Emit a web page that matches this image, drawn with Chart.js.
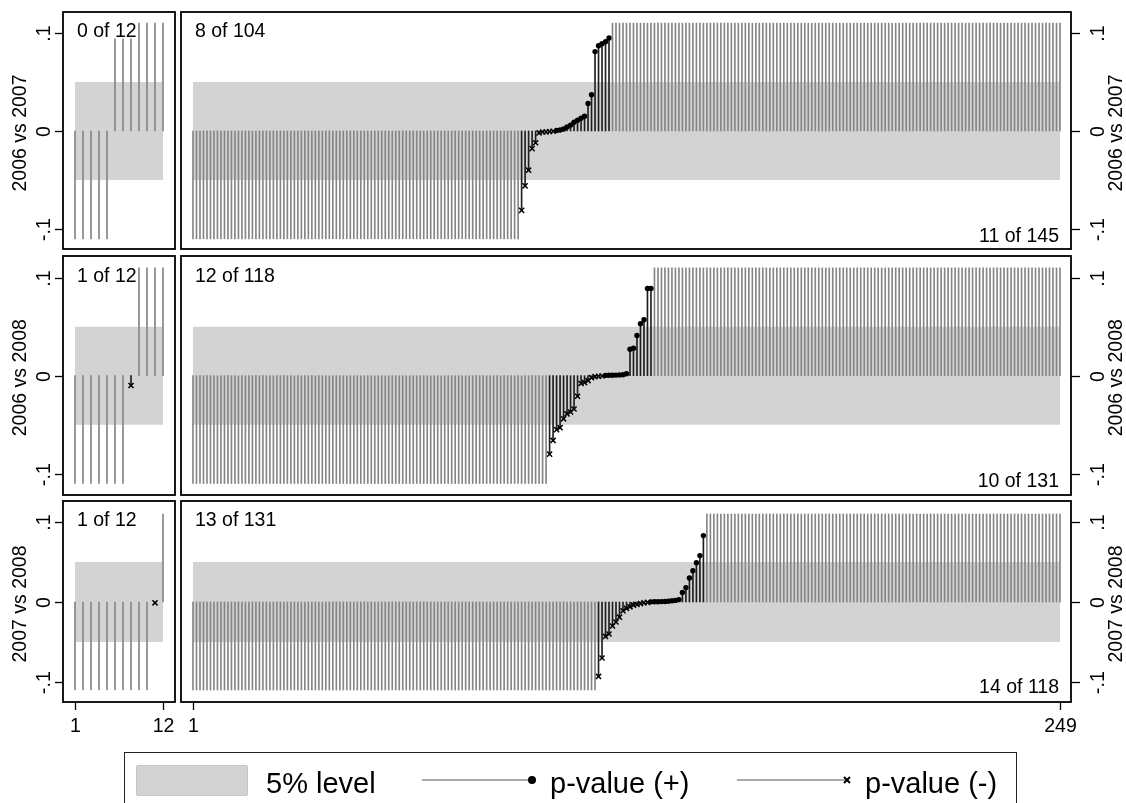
<!DOCTYPE html>
<html>
<head>
<meta charset="utf-8">
<script src="https://cdn.jsdelivr.net/npm/chart.js@4.4.1/dist/chart.umd.min.js"></script>
<style>
  html, body { margin: 0; padding: 0; background: #fff; }
  #wrap { position: relative; width: 1126px; height: 803px; overflow: hidden;
          font-family: "Liberation Sans", Arial, Helvetica, sans-serif; color: #000; }
  #wrap canvas { position: absolute; left: 0; top: 0; }
  #legend { position: absolute; left: 124px; top: 752px; width: 893px; height: 70px;
            border: 1px solid #222; box-sizing: border-box; }
  .lg { position: absolute; font-size: 29px; line-height: 29px; white-space: nowrap; }
  #swatch { position: absolute; left: 136px; top: 765px; width: 112px; height: 31px;
            background: #d3d3d3; border: 1px solid #c6c6c6; box-sizing: border-box; border-radius: 2px; }
  .lgsvg { position: absolute; }
</style>
</head>
<body>
<div id="wrap">
  <canvas id="p11" width="1126" height="803"></canvas>
  <canvas id="p12" width="1126" height="803"></canvas>
  <canvas id="p21" width="1126" height="803"></canvas>
  <canvas id="p22" width="1126" height="803"></canvas>
  <canvas id="p31" width="1126" height="803"></canvas>
  <canvas id="p32" width="1126" height="803"></canvas>

  <div id="legend"></div>
  <div id="swatch"></div>
  <div class="lg" style="left:266px;top:769px;">5% level</div>
  <svg class="lgsvg" style="left:418px;top:772px;" width="122" height="16">
    <line x1="4" y1="8" x2="114" y2="8" stroke="#555" stroke-width="1.2"/>
    <circle cx="114" cy="8" r="4" fill="#000"/>
  </svg>
  <div class="lg" style="left:550px;top:769px;">p-value (+)</div>
  <svg class="lgsvg" style="left:733px;top:772px;" width="122" height="16">
    <line x1="4" y1="8" x2="114" y2="8" stroke="#555" stroke-width="1.2"/>
    <path d="M111 5 L117 11 M117 5 L111 11" stroke="#000" stroke-width="2"/>
  </svg>
  <div class="lg" style="left:865px;top:769px;">p-value (-)</div>
</div>

<script>
// ---- data ----
const CLIP = 0.11;                       // spikes beyond the plotted range
const Y_TICKS = [-0.1, 0, 0.1];
const Y_TICK_LABELS = ['-.1', '0', '.1'];
const BAND = [-0.05, 0.05];              // 5% level
const ROW_TITLES = ['2006 vs 2007', '2006 vs 2008', '2007 vs 2008'];

// left column: 12 regressions
const LEFT_N = 12;
const LEFT_X_TICKS = [1, 12];
const left1Grey = [-.11, -.11, -.11, -.11, -.11, .094, .094, .094, .11, .11, .11, .11];
const left1Mark = [null, null, null, null, null, null, null, null, null, null, null, null];
const left2Grey = [-.11, -.11, -.11, -.11, -.11, -.11, -.11, null, .11, .11, .11, .11];
const left2Mark = [null, null, null, null, null, null, null, -.01, null, null, null, null];
const left3Grey = [-.11, -.11, -.11, -.11, -.11, -.11, -.11, -.11, -.11, -.11, null, .11];
const left3Mark = [null, null, null, null, null, null, null, null, null, null, -.001, null];

const RIGHT_N = 249;
const RIGHT_X_TICKS = [1, 249];
const right1NegClip = 94;
const right1Mark = [-.081, -.056, -.040, -.018, -.012, -.002, -.001, -.001, -.0005, -.0003,
                    .0005, .001, .002, .004, .006, .009, .011, .013, .015, .028, .037,
                    .081, .087, .089, .091, .095];
const right1PosClip = 129;

const right2NegClip = 102;
const right2Mark = [-.080, -.066, -.055, -.053, -.044, -.039, -.037, -.034, -.021, -.008,
                    -.007, -.005, -.002, -.001, -.0006, -.0003,
                    .0003, .0004, .0005, .0006, .0008, .001, .002, .027, .028, .041,
                    .053, .057, .089, .089];
const right2PosClip = 117;

const right3NegClip = 116;
const right3Mark = [-.093, -.070, -.043, -.040, -.030, -.025, -.019, -.011, -.008, -.006,
                    -.004, -.003, -.002, -.001, -.0005,
                    .0002, .0003, .0004, .0005, .0007, .001, .0015, .002, .003, .012,
                    .018, .030, .039, .049, .058, .083];
const right3PosClip = 102;

const TOP_LABELS = [['0 of 12', '8 of 104'], ['1 of 12', '12 of 118'], ['1 of 12', '13 of 131']];
const BOTTOM_LABELS = [[null, '11 of 145'], [null, '10 of 131'], [null, '14 of 118']];

// ---- layout (page pixels) ----
const ROWS = [
  { t: 12,  b: 249, yMin: -0.1204, yMax: 0.1214 },
  { t: 256, b: 495, yMin: -0.1217, yMax: 0.1221 },
  { t: 501, b: 702, yMin: -0.125,  yMax: 0.12625 },
];
const COLS = [
  { l: 63,  r: 175,  xMin: -0.5,  xMax: 13.5 },
  { l: 181, r: 1071, xMin: -2.43, xMax: 252.15 },
];
const W = 1126, H = 803;
const FONT = '19.5px "Liberation Sans", Arial, Helvetica, sans-serif';

function leftSeries(grey, mark) {
  const g = [], m = [];
  grey.forEach((v, i) => { if (v !== null) g.push({ x: i + 1, y: v }); });
  mark.forEach((v, i) => { if (v !== null) m.push({ x: i + 1, y: v }); });
  return { grey: g, mark: m };
}

function rightSeries(negClip, marked, posClip) {
  const g = [], m = [];
  let i = 1;
  for (let k = 0; k < negClip; k++) g.push({ x: i++, y: -CLIP });
  marked.forEach(v => m.push({ x: i++, y: v }));
  for (let k = 0; k < posClip; k++) g.push({ x: i++, y: CLIP });
  return { grey: g, mark: m };
}

function vText(ctx, text, x, y) {
  ctx.save();
  ctx.translate(x, y);
  ctx.rotate(-Math.PI / 2);
  ctx.textAlign = 'center';
  ctx.textBaseline = 'alphabetic';
  ctx.fillText(text, 0, 0);
  ctx.restore();
}

// box, ticks, tick labels, titles, count labels
const framePlugin = {
  id: 'frame',
  afterDraw(chart, args, o) {
    const { ctx, chartArea: a } = chart;
    const xs = chart.scales.x, ys = chart.scales.y;
    ctx.save();
    ctx.strokeStyle = '#000';
    ctx.fillStyle = '#000';
    ctx.font = FONT;

    ctx.lineWidth = 1.3;
    Y_TICKS.forEach((v, i) => {
      const py = Math.round(ys.getPixelForValue(v)) + 0.5;
      ctx.beginPath();
      if (o.side === 'left') { ctx.moveTo(a.left, py); ctx.lineTo(a.left - 8, py); }
      else { ctx.moveTo(a.right, py); ctx.lineTo(a.right + 9, py); }
      ctx.stroke();
      vText(ctx, Y_TICK_LABELS[i], o.side === 'left' ? a.left - 13 : a.right + 33, py);
    });
    const y0 = ys.getPixelForValue(0) + 2;
    vText(ctx, o.title, o.side === 'left' ? a.left - 37 : a.right + 51, y0);

    if (o.xTicks) {
      ctx.textAlign = 'center';
      ctx.textBaseline = 'alphabetic';
      o.xTicks.forEach(v => {
        const px = Math.round(xs.getPixelForValue(v)) + 0.5;
        ctx.beginPath();
        ctx.moveTo(px, a.bottom);
        ctx.lineTo(px, a.bottom + 8);
        ctx.stroke();
        ctx.fillText(String(v), px, a.bottom + 30);
      });
    }

    if (o.topLabel) {
      ctx.textAlign = 'left';
      ctx.fillText(o.topLabel, xs.getPixelForValue(1) + 2, ys.getPixelForValue(0.1) + 4);
    }
    if (o.bottomLabel) {
      ctx.textAlign = 'right';
      ctx.fillText(o.bottomLabel, xs.getPixelForValue(o.n) - 1, ys.getPixelForValue(-CLIP) + 3);
    }

    ctx.lineWidth = 1.8;
    ctx.strokeRect(a.left, a.top, a.right - a.left, a.bottom - a.top);
    ctx.restore();
  }
};

function makePanel(id, r, c, n, series) {
  const row = ROWS[r], col = COLS[c];
  const pos = series.mark.filter(p => p.y >= 0);
  const neg = series.mark.filter(p => p.y < 0);
  return new Chart(document.getElementById(id), {
    type: 'bar',
    data: {
      datasets: [
        { type: 'line', label: 'band hi', data: [{ x: 1, y: BAND[1] }, { x: n, y: BAND[1] }],
          fill: '+1', backgroundColor: '#d3d3d3', borderWidth: 0, pointRadius: 0, order: 10 },
        { type: 'line', label: 'band lo', data: [{ x: 1, y: BAND[0] }, { x: n, y: BAND[0] }],
          fill: false, borderWidth: 0, pointRadius: 0, order: 11 },
        { type: 'bar', label: 'clipped', data: series.grey, backgroundColor: '#858585',
          barThickness: 1, borderWidth: 0, grouped: false, order: 5 },
        { type: 'bar', label: 'marked', data: series.mark, backgroundColor: '#1e1e1e',
          barThickness: 1, borderWidth: 0, grouped: false, order: 4 },
        { type: 'scatter', label: 'p-value (+)', data: pos, pointStyle: 'circle',
          pointRadius: 2.7, pointBackgroundColor: '#000', pointBorderWidth: 0, order: 1 },
        { type: 'scatter', label: 'p-value (-)', data: neg, pointStyle: 'crossRot',
          pointRadius: 3.6, pointBorderColor: '#000', pointBorderWidth: 1.5, order: 0 },
      ]
    },
    options: {
      responsive: false,
      animation: false,
      events: [],
      layout: { padding: { left: col.l, right: W - col.r, top: row.t, bottom: H - row.b } },
      scales: {
        x: { type: 'linear', min: col.xMin, max: col.xMax, display: false, offset: false },
        y: { type: 'linear', min: row.yMin, max: row.yMax, display: false },
      },
      plugins: {
        legend: { display: false },
        tooltip: { enabled: false },
        frame: {
          side: c === 0 ? 'left' : 'right',
          title: ROW_TITLES[r],
          xTicks: r === 2 ? (c === 0 ? LEFT_X_TICKS : RIGHT_X_TICKS) : null,
          topLabel: TOP_LABELS[r][c],
          bottomLabel: BOTTOM_LABELS[r][c],
          n: n,
        }
      }
    },
    plugins: [framePlugin]
  });
}

makePanel('p11', 0, 0, LEFT_N, leftSeries(left1Grey, left1Mark));
makePanel('p12', 0, 1, RIGHT_N, rightSeries(right1NegClip, right1Mark, right1PosClip));
makePanel('p21', 1, 0, LEFT_N, leftSeries(left2Grey, left2Mark));
makePanel('p22', 1, 1, RIGHT_N, rightSeries(right2NegClip, right2Mark, right2PosClip));
makePanel('p31', 2, 0, LEFT_N, leftSeries(left3Grey, left3Mark));
makePanel('p32', 2, 1, RIGHT_N, rightSeries(right3NegClip, right3Mark, right3PosClip));
</script>
</body>
</html>
